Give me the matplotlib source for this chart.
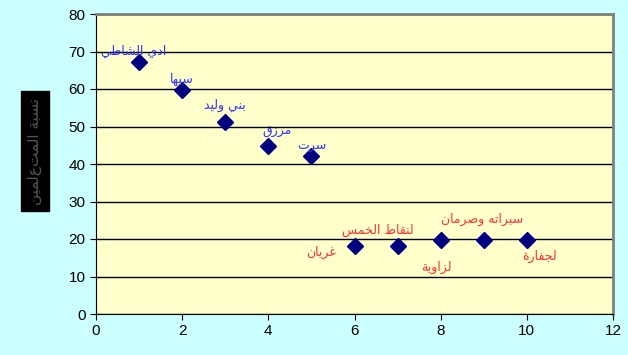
import matplotlib
matplotlib.use("Agg")
import matplotlib.pyplot as plt

# data
x_vals = [1, 2, 3, 4, 5, 6, 7, 8, 9, 10]
y_vals = [67.3, 59.8, 51.2, 44.9, 42.2, 18.2, 18.2, 19.8, 19.8, 19.8]
names = ["ادي الشاطي", "سبها", "بني وليد", "مرزق", "سرت",
         "غريان", "لنقاط الخمس", "لزاوية", "سبراته وصرمان", "لجفارة"]
# label offsets in pixels (dx, dy) relative to each point
offsets = [(-5, 10), (0, 10), (0, 17), (9, 14), (0, 10),
           (-33, -7), (-20, 15), (-4, -28), (-2, 20), (13, -17)]
label_colors = ["#3333ff"] * 5 + ["#ff3333"] * 5
y_title = "نسبة المتعلمين"

# contextual forms: isolated, final, initial, medial (None = no joining to next)
FORMS = {
    "ا": (0xFE8D, 0xFE8E, None, None), "ب": (0xFE8F, 0xFE90, 0xFE91, 0xFE92),
    "ة": (0xFE93, 0xFE94, None, None), "ت": (0xFE95, 0xFE96, 0xFE97, 0xFE98),
    "ج": (0xFE9D, 0xFE9E, 0xFE9F, 0xFEA0), "خ": (0xFEA5, 0xFEA6, 0xFEA7, 0xFEA8),
    "د": (0xFEA9, 0xFEAA, None, None), "ر": (0xFEAD, 0xFEAE, None, None),
    "ز": (0xFEAF, 0xFEB0, None, None), "س": (0xFEB1, 0xFEB2, 0xFEB3, 0xFEB4),
    "ش": (0xFEB5, 0xFEB6, 0xFEB7, 0xFEB8), "ص": (0xFEB9, 0xFEBA, 0xFEBB, 0xFEBC),
    "ط": (0xFEC1, 0xFEC2, 0xFEC3, 0xFEC4), "غ": (0xFECD, 0xFECE, 0xFECF, 0xFED0),
    "ف": (0xFED1, 0xFED2, 0xFED3, 0xFED4), "ق": (0xFED5, 0xFED6, 0xFED7, 0xFED8),
    "ل": (0xFEDD, 0xFEDE, 0xFEDF, 0xFEE0), "م": (0xFEE1, 0xFEE2, 0xFEE3, 0xFEE4),
    "ن": (0xFEE5, 0xFEE6, 0xFEE7, 0xFEE8), "ه": (0xFEE9, 0xFEEA, 0xFEEB, 0xFEEC),
    "و": (0xFEED, 0xFEEE, None, None), "ي": (0xFEF1, 0xFEF2, 0xFEF3, 0xFEF4),
}


def shape(text):
    # poor man's arabic shaping + right-to-left ordering
    out = []
    for i, ch in enumerate(text):
        if ch not in FORMS:
            out.append(ch)
            continue
        prev = text[i - 1] if i > 0 else ""
        nxt = text[i + 1] if i + 1 < len(text) else ""
        join_prev = prev in FORMS and FORMS[prev][2] is not None
        join_next = nxt in FORMS and FORMS[ch][2] is not None
        iso, fin, ini, med = FORMS[ch]
        if join_prev and join_next:
            out.append(chr(med))
        elif join_prev:
            out.append(chr(fin))
        elif join_next:
            out.append(chr(ini))
        else:
            out.append(chr(iso))
    return "".join(reversed(out))


plt.rcParams["font.family"] = ["Liberation Sans", "DejaVu Sans"]

fig = plt.figure(figsize=(6.28, 3.55), dpi=100, facecolor="#ccffff")
ax = fig.add_axes([96 / 628, 41 / 355, 517 / 628, 300 / 355])
ax.set_facecolor("#ffffcc")

ax.set_xlim(0, 12)
ax.set_ylim(0, 80)
ax.set_xticks(range(0, 13, 2))
ax.set_yticks(range(0, 81, 10))
ax.yaxis.grid(True, color="black", linewidth=1)
ax.set_axisbelow(True)
ax.tick_params(labelsize=11, length=4, color="black")

for side in ["top", "right"]:
    ax.spines[side].set_color("#808080")
    ax.spines[side].set_linewidth(2)
for side in ["left", "bottom"]:
    ax.spines[side].set_color("black")

ax.plot(x_vals, y_vals, linestyle="none", marker="D", markersize=8,
        color="#000080", zorder=3)

for xv, yv, name, off, col in zip(x_vals, y_vals, names, offsets, label_colors):
    ax.annotate(shape(name), (xv, yv), xytext=off, textcoords="offset pixels",
                ha="center", va="center", fontsize=9, color=col,
                family=["DejaVu Sans"])

fig.text(35 / 628, 1 - 151 / 355, shape(y_title), rotation=90, ha="center",
         va="center", fontsize=11, color="#555555", family=["DejaVu Sans"],
         bbox=dict(boxstyle="square,pad=0.4", facecolor="black", edgecolor="black"))

fig.savefig("out.png", dpi=100, facecolor=fig.get_facecolor())
